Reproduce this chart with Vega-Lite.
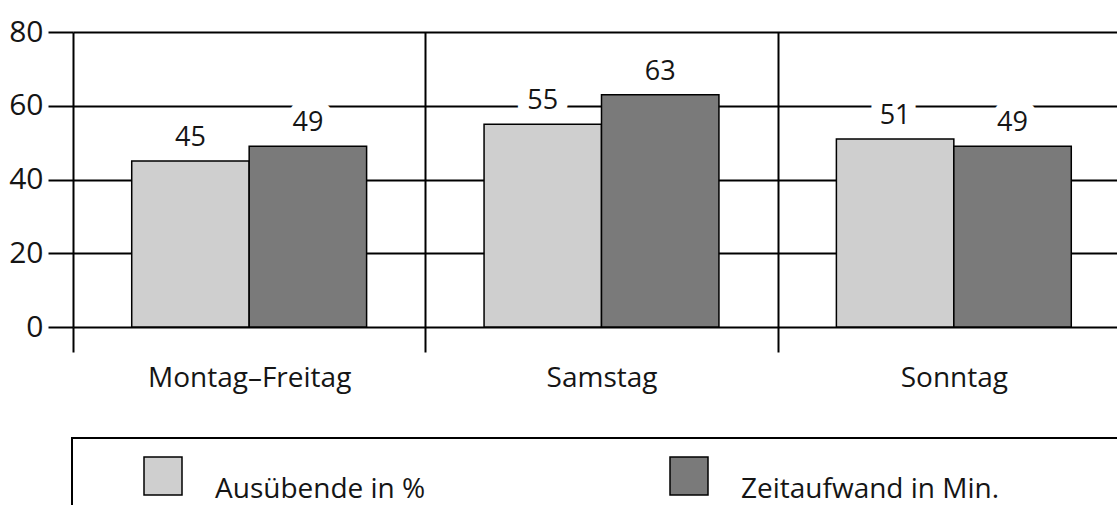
{
  "$schema": "https://vega.github.io/schema/vega-lite/v6.json",
  "width": 1044,
  "height": 295,
  "autosize": {"type": "none"},
  "padding": {"left": 73, "top": 32, "right": 0, "bottom": 178},
  "background": "white",
  "config": {"view": {"stroke": null}, "font": "Open Sans"},
  "data": {
    "values": [
      {"tag": "Montag–Freitag", "serie": "Ausübende in %", "wert": 45},
      {"tag": "Montag–Freitag", "serie": "Zeitaufwand in Min.", "wert": 49},
      {"tag": "Samstag", "serie": "Ausübende in %", "wert": 55},
      {"tag": "Samstag", "serie": "Zeitaufwand in Min.", "wert": 63},
      {"tag": "Sonntag", "serie": "Ausübende in %", "wert": 51},
      {"tag": "Sonntag", "serie": "Zeitaufwand in Min.", "wert": 49}
    ]
  },
  "encoding": {
    "x": {
      "field": "tag",
      "type": "nominal",
      "sort": ["Montag–Freitag", "Samstag", "Sonntag"],
      "scale": {"range": [0, 1057], "paddingInner": 0, "paddingOuter": 0},
      "axis": {
        "title": null,
        "domain": false,
        "tickBand": "extent",
        "grid": true,
        "gridColor": "black",
        "gridWidth": 2,
        "gridOpacity": 1,
        "ticks": true,
        "tickColor": "black",
        "tickWidth": 2,
        "tickSize": 25,
        "labelAngle": 0,
        "labelFontSize": 28,
        "labelFont": "Open Sans",
        "labelColor": "#151515",
        "labelPadding": 12,
        "labelLimit": 400
      }
    },
    "xOffset": {
      "field": "serie",
      "type": "nominal",
      "sort": ["Ausübende in %", "Zeitaufwand in Min."],
      "scale": {"paddingOuter": 0.5, "paddingInner": 0}
    },
    "y": {
      "field": "wert",
      "type": "quantitative",
      "scale": {"domain": [0, 80], "nice": false},
      "axis": {
        "title": null,
        "values": [0, 20, 40, 60, 80],
        "domain": false,
        "grid": true,
        "gridColor": "black",
        "gridWidth": 2,
        "gridOpacity": 1,
        "tickColor": "black",
        "tickWidth": 2,
        "tickSize": 25,
        "labelFontSize": 30,
        "labelFont": "Open Sans",
        "labelColor": "#151515",
        "labelPadding": 5
      }
    }
  },
  "layer": [
    {
      "mark": {"type": "text", "dy": -15, "baseline": "alphabetic", "fontSize": 27, "font": "Open Sans", "fill": "white", "stroke": "white", "strokeWidth": 22, "strokeJoin": "round"},
      "encoding": {"text": {"field": "wert", "type": "quantitative"}}
    },
    {
      "mark": {"type": "bar", "stroke": "black", "strokeWidth": 1.5},
      "encoding": {
        "color": {
          "field": "serie",
          "type": "nominal",
          "scale": {"domain": ["Ausübende in %", "Zeitaufwand in Min.", " "], "range": ["#cfcfcf", "#7a7a7a", "#ffffff"]},
          "legend": {
            "orient": "none",
            "legendX": -1,
            "legendY": 406,
            "direction": "horizontal",
            "title": null,
            "symbolType": "square",
            "symbolSize": 1444,
            "symbolStrokeColor": "black",
            "symbolStrokeWidth": 1.5,
            "symbolOpacity": 1,
            "symbolOffset": 53,
            "labelFontSize": 28,
            "labelFont": "Open Sans",
            "labelColor": "#151515",
            "labelLimit": 500,
            "labelOffset": 32,
            "labelBaseline": "top",
            "columnPadding": 190,
            "padding": 18,
            "strokeColor": "black",
            "fillColor": "white",
            "encode": {"legend": {"update": {"strokeWidth": {"value": 2}}}}
          }
        }
      }
    },
    {
      "mark": {"type": "text", "dy": -15, "baseline": "alphabetic", "fontSize": 27, "font": "Open Sans", "fill": "#151515"},
      "encoding": {"text": {"field": "wert", "type": "quantitative"}}
    }
  ]
}
